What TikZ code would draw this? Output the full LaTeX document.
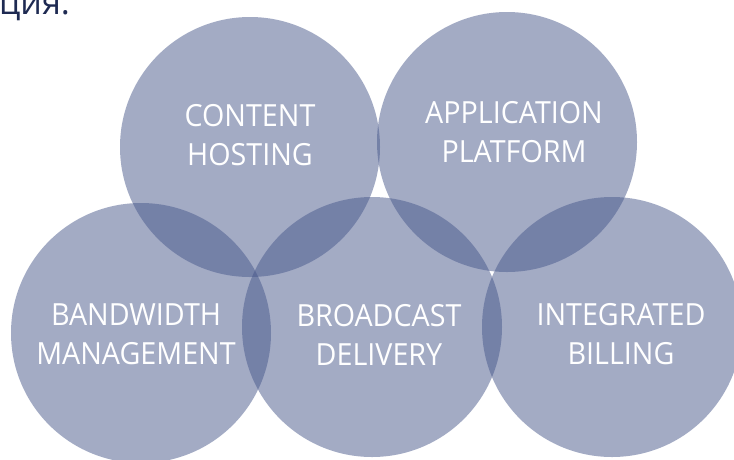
\documentclass[tikz,border=0pt]{standalone}
\usepackage{fontspec}
\setmainfont{Open Sans}
\newfontfamily\petalfont[FakeStretch=0.94]{Open Sans}
\definecolor{petalblue}{RGB}{71,87,138}
\definecolor{headblue}{RGB}{30,42,82}
\begin{document}
\begin{tikzpicture}[x=1pt,y=-1pt,
	disc/.style={circle,minimum size=260pt,inner sep=0pt,fill=petalblue,fill opacity=0.5},
	caption/.style={align=center,text=white,inner sep=0pt,font=\petalfont\fontsize{30.5}{39}\selectfont}]
	\useasboundingbox (0,0) rectangle (734,459);
	\clip (0,0) rectangle (734,459);
	
	% top row
	\node[disc] (hosting) at (250,147) {};
	\node[disc] (platform) at (507,142) {};
	% bottom row
	\node[disc] (bandwidth) at (141,333) {};
	\node[disc] (broadcast) at (372,327) {};
	\node[disc] (billing) at (612,327) {};
	
	\node[caption] (hostingtext) at (250,135.5) {CONTENT\\HOSTING};
	\node[caption] (platformtext) at (514,132) {APPLICATION\\PLATFORM};
	\node[caption] (bandwidthtext) at (136,334.5) {BANDWIDTH\\MANAGEMENT};
	\node[caption] (broadcasttext) at (379,334.5) {BROADCAST\\DELIVERY};
	\node[caption] (billingtext) at (621,334.5) {INTEGRATED\\BILLING};
	
	\node[anchor=base west,inner sep=0pt,text=headblue,font=\fontsize{34}{40}\selectfont] (head) at (-1,14) {ция.};
\end{tikzpicture}
\end{document}
